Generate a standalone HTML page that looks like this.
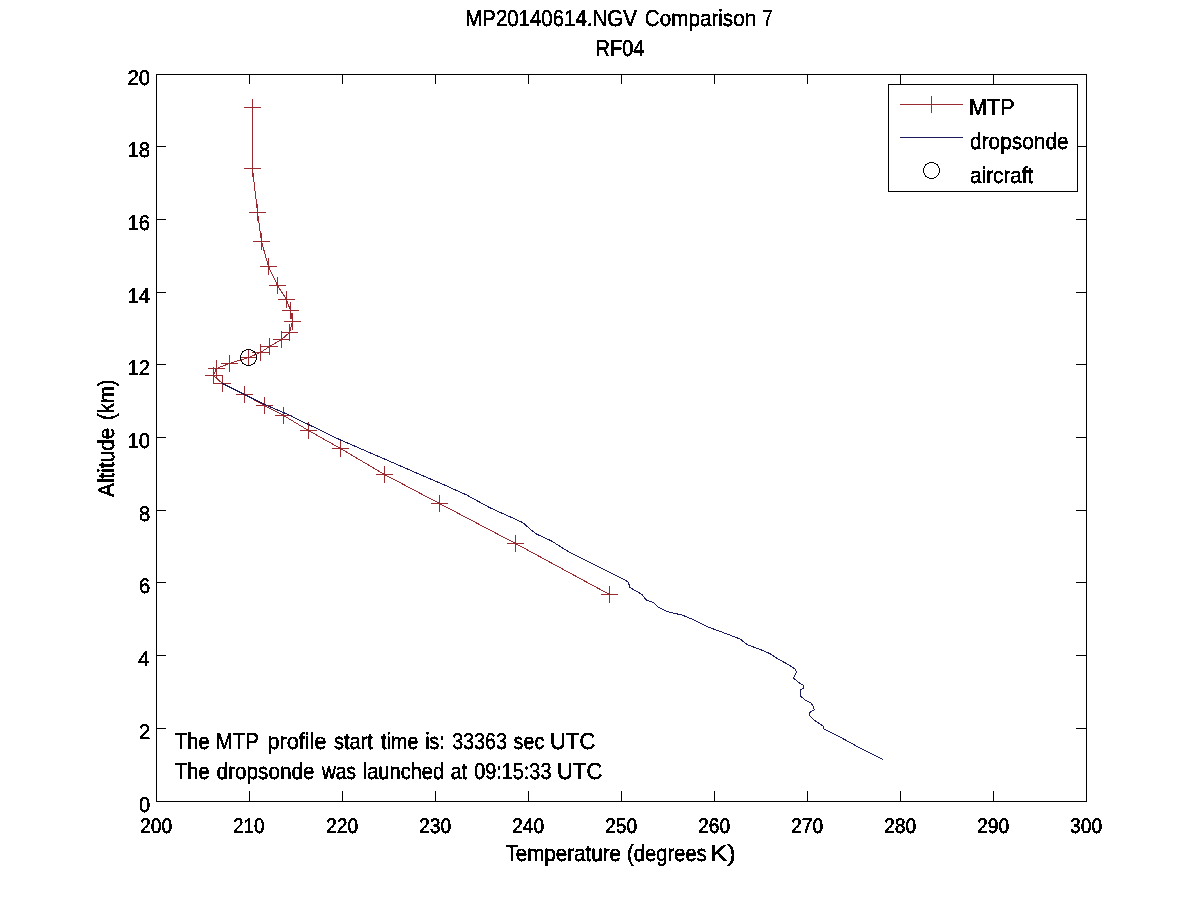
<!DOCTYPE html>
<html lang="en"><head><meta charset="utf-8"><title>MP20140614.NGV Comparison 7</title>
<style>html,body{margin:0;padding:0;background:#fff;width:1200px;height:900px;overflow:hidden}svg{display:block}text{font-family:"Liberation Sans",Arial,Helvetica,sans-serif;font-size:23.0px;fill:#000;stroke:#000;stroke-width:0.45px;white-space:pre;text-rendering:geometricPrecision}text.t{font-size:21.2px}</style></head><body>
<svg width="1200" height="900" viewBox="0 0 1200 900">
<rect x="0" y="0" width="1200" height="900" fill="#fff"/>
<defs><filter id="bw" x="0" y="0" width="1200" height="900" filterUnits="userSpaceOnUse" color-interpolation-filters="sRGB"><feComponentTransfer><feFuncA type="discrete" tableValues="0 1"/></feComponentTransfer></filter></defs>
<g stroke="#000" stroke-width="1" fill="none" shape-rendering="crispEdges">
<rect x="156.5" y="74.5" width="930.0" height="727.0"/>
<line x1="249.5" y1="802.0" x2="249.5" y2="791.0"/>
<line x1="249.5" y1="74.0" x2="249.5" y2="84.0"/>
<line x1="342.5" y1="802.0" x2="342.5" y2="791.0"/>
<line x1="342.5" y1="74.0" x2="342.5" y2="84.0"/>
<line x1="435.5" y1="802.0" x2="435.5" y2="791.0"/>
<line x1="435.5" y1="74.0" x2="435.5" y2="84.0"/>
<line x1="528.5" y1="802.0" x2="528.5" y2="791.0"/>
<line x1="528.5" y1="74.0" x2="528.5" y2="84.0"/>
<line x1="621.5" y1="802.0" x2="621.5" y2="791.0"/>
<line x1="621.5" y1="74.0" x2="621.5" y2="84.0"/>
<line x1="714.5" y1="802.0" x2="714.5" y2="791.0"/>
<line x1="714.5" y1="74.0" x2="714.5" y2="84.0"/>
<line x1="807.5" y1="802.0" x2="807.5" y2="791.0"/>
<line x1="807.5" y1="74.0" x2="807.5" y2="84.0"/>
<line x1="900.5" y1="802.0" x2="900.5" y2="791.0"/>
<line x1="900.5" y1="74.0" x2="900.5" y2="84.0"/>
<line x1="993.5" y1="802.0" x2="993.5" y2="791.0"/>
<line x1="993.5" y1="74.0" x2="993.5" y2="84.0"/>
<line x1="156.0" y1="728.5" x2="166.0" y2="728.5"/>
<line x1="1087.0" y1="728.5" x2="1076.0" y2="728.5"/>
<line x1="156.0" y1="655.5" x2="166.0" y2="655.5"/>
<line x1="1087.0" y1="655.5" x2="1076.0" y2="655.5"/>
<line x1="156.0" y1="582.5" x2="166.0" y2="582.5"/>
<line x1="1087.0" y1="582.5" x2="1076.0" y2="582.5"/>
<line x1="156.0" y1="510.5" x2="166.0" y2="510.5"/>
<line x1="1087.0" y1="510.5" x2="1076.0" y2="510.5"/>
<line x1="156.0" y1="437.5" x2="166.0" y2="437.5"/>
<line x1="1087.0" y1="437.5" x2="1076.0" y2="437.5"/>
<line x1="156.0" y1="364.5" x2="166.0" y2="364.5"/>
<line x1="1087.0" y1="364.5" x2="1076.0" y2="364.5"/>
<line x1="156.0" y1="292.5" x2="166.0" y2="292.5"/>
<line x1="1087.0" y1="292.5" x2="1076.0" y2="292.5"/>
<line x1="156.0" y1="219.5" x2="166.0" y2="219.5"/>
<line x1="1087.0" y1="219.5" x2="1076.0" y2="219.5"/>
<line x1="156.0" y1="146.5" x2="166.0" y2="146.5"/>
<line x1="1087.0" y1="146.5" x2="1076.0" y2="146.5"/>
</g>
<g fill="none" stroke-width="1" shape-rendering="crispEdges">
<polyline stroke="#9a2a30" points="252.5,107.5 252.5,168.5 257.5,212.5 261.5,241.5 268.5,266.5 277.5,285.5 286.5,299.5 290.5,310.5 292.5,321.5 289.5,332.5 281.5,339.5 269.5,346.5 260.5,352.5 248.5,357.5 229.5,363.5 216.5,368.5 213.5,375.5 222.5,383.5 244.5,394.5 264.5,405.5 283.5,415.5 308.5,430.5 340.5,448.5 384.5,474.5 439.5,503.5 515.5,543.5 609.5,594.5"/>
<path stroke="#9a2a30" d="M244.0 107.5h17M252.5 99.0v17M244.0 168.5h17M252.5 160.0v17M249.0 212.5h17M257.5 204.0v17M253.0 241.5h17M261.5 233.0v17M260.0 266.5h17M268.5 258.0v17M269.0 285.5h17M277.5 277.0v17M278.0 299.5h17M286.5 291.0v17M282.0 310.5h17M290.5 302.0v17M284.0 321.5h17M292.5 313.0v17M281.0 332.5h17M289.5 324.0v17M273.0 339.5h17M281.5 331.0v17M261.0 346.5h17M269.5 338.0v17M252.0 352.5h17M260.5 344.0v17M240.0 357.5h17M248.5 349.0v17M221.0 363.5h17M229.5 355.0v17M208.0 368.5h17M216.5 360.0v17M205.0 375.5h17M213.5 367.0v17M214.0 383.5h17M222.5 375.0v17M236.0 394.5h17M244.5 386.0v17M256.0 405.5h17M264.5 397.0v17M275.0 415.5h17M283.5 407.0v17M300.0 430.5h17M308.5 422.0v17M332.0 448.5h17M340.5 440.0v17M376.0 474.5h17M384.5 466.0v17M431.0 503.5h17M439.5 495.0v17M507.0 543.5h17M515.5 535.0v17M601.0 594.5h17M609.5 586.0v17"/>
<polyline stroke="#1a1a5e" points="222.5,383.5 244.5,394.5 264.5,404.5 283.5,412.5 308.5,424.5 340.5,440 384.5,459 420,474.5 443.3,484.5 466.7,495 490,507.8 522.7,522.5 529.7,528.8 536.7,534.2 550.7,540.5 569.3,552.2 597.3,566.2 625.3,580.2 628.8,582.5 629.3,587.2 641.7,594.2 646.3,600 653.3,602.3 658,607 667.3,611.7 682,615 694,620 708,627 726,633.6 740,639 748,645 760,649.4 770,653.6 778,659 788,664.4 795,669 796.6,672 793.6,678 798,682 803.6,685.6 804,688 800.6,690 800.6,696 805,700 811,703 813,706 814.4,709.6 809,713 809,715 814,720 823,726 824,729 840,737 860,748 872,754 883,759.5"/>
</g>
<circle cx="248.5" cy="357.5" r="8" fill="none" stroke="#000" stroke-width="1" shape-rendering="crispEdges"/>
<rect x="888.5" y="84.5" width="189" height="107" fill="#fff" stroke="#000" stroke-width="1" shape-rendering="crispEdges"/>
<g fill="none" stroke-width="1" shape-rendering="crispEdges">
<path stroke="#9a2a30" d="M900 104.5H963M931.5 96V113"/>
<path stroke="#1a1a5e" d="M900 137.5H963"/>
</g>
<circle cx="931.5" cy="170.5" r="8" fill="none" stroke="#000" stroke-width="1" shape-rendering="crispEdges"/>
<g filter="url(#bw)">
<text class="t" y="833"><tspan x="140.09" textLength="32.24" lengthAdjust="spacingAndGlyphs">200</tspan></text>
<text class="t" y="833"><tspan x="233.11" textLength="31.41" lengthAdjust="spacingAndGlyphs">210</tspan></text>
<text class="t" y="833"><tspan x="326.09" textLength="32.24" lengthAdjust="spacingAndGlyphs">220</tspan></text>
<text class="t" y="833"><tspan x="419.09" textLength="32.24" lengthAdjust="spacingAndGlyphs">230</tspan></text>
<text class="t" y="833"><tspan x="512.09" textLength="32.24" lengthAdjust="spacingAndGlyphs">240</tspan></text>
<text class="t" y="833"><tspan x="605.09" textLength="32.24" lengthAdjust="spacingAndGlyphs">250</tspan></text>
<text class="t" y="833"><tspan x="698.09" textLength="32.24" lengthAdjust="spacingAndGlyphs">260</tspan></text>
<text class="t" y="833"><tspan x="791.09" textLength="32.24" lengthAdjust="spacingAndGlyphs">270</tspan></text>
<text class="t" y="833"><tspan x="884.09" textLength="32.24" lengthAdjust="spacingAndGlyphs">280</tspan></text>
<text class="t" y="833"><tspan x="977.09" textLength="32.24" lengthAdjust="spacingAndGlyphs">290</tspan></text>
<text class="t" y="833"><tspan x="1070.09" textLength="32.24" lengthAdjust="spacingAndGlyphs">300</tspan></text>
<text class="t" y="812.0"><tspan x="138.90" textLength="11.26" lengthAdjust="spacingAndGlyphs">0</tspan></text>
<text class="t" y="739.0"><tspan x="138.90" textLength="11.26" lengthAdjust="spacingAndGlyphs">2</tspan></text>
<text class="t" y="666.0"><tspan x="137.95" textLength="11.26" lengthAdjust="spacingAndGlyphs">4</tspan></text>
<text class="t" y="593.0"><tspan x="138.90" textLength="11.26" lengthAdjust="spacingAndGlyphs">6</tspan></text>
<text class="t" y="521.0"><tspan x="138.90" textLength="11.26" lengthAdjust="spacingAndGlyphs">8</tspan></text>
<text class="t" y="448.0"><tspan x="127.45" textLength="22.51" lengthAdjust="spacingAndGlyphs">10</tspan></text>
<text class="t" y="375.0"><tspan x="127.45" textLength="22.51" lengthAdjust="spacingAndGlyphs">12</tspan></text>
<text class="t" y="303.0"><tspan x="127.45" textLength="22.51" lengthAdjust="spacingAndGlyphs">14</tspan></text>
<text class="t" y="230.0"><tspan x="127.45" textLength="22.51" lengthAdjust="spacingAndGlyphs">16</tspan></text>
<text class="t" y="157.0"><tspan x="127.45" textLength="22.51" lengthAdjust="spacingAndGlyphs">18</tspan></text>
<text class="t" y="85.0"><tspan x="127.45" textLength="22.51" lengthAdjust="spacingAndGlyphs">20</tspan></text>
<text y="26" style="font-size:23.0px"><tspan x="465.22" textLength="171.60" lengthAdjust="spacingAndGlyphs">MP20140614.NGV</tspan> <tspan x="644.85" textLength="111.30" lengthAdjust="spacingAndGlyphs">Comparison</tspan> <tspan x="762.75" textLength="9.60" lengthAdjust="spacingAndGlyphs">7</tspan></text>
<text y="56" style="font-size:23.0px"><tspan x="595.46" textLength="49.01" lengthAdjust="spacingAndGlyphs">RF04</tspan></text>
<text y="861" style="font-size:23.0px"><tspan x="505.40" textLength="115.61" lengthAdjust="spacingAndGlyphs">Temperature</tspan> <tspan x="627.12" textLength="79.56" lengthAdjust="spacingAndGlyphs">(degrees</tspan> <tspan x="710.18" textLength="25.53" lengthAdjust="spacingAndGlyphs">K)</tspan></text>
<g transform="translate(114,0) rotate(-90)"><text y="0" style="font-size:23.0px"><tspan x="-497.00" textLength="69.45" lengthAdjust="spacingAndGlyphs">Altitude</tspan> <tspan x="-419.88" textLength="40.24" lengthAdjust="spacingAndGlyphs">(km)</tspan></text></g>
<text y="749" style="font-size:23.0px"><tspan x="175.00" textLength="34.56" lengthAdjust="spacingAndGlyphs">The</tspan> <tspan x="215.63" textLength="42.86" lengthAdjust="spacingAndGlyphs">MTP</tspan> <tspan x="267.46" textLength="59.16" lengthAdjust="spacingAndGlyphs">profile</tspan> <tspan x="334.00" textLength="38.77" lengthAdjust="spacingAndGlyphs">start</tspan> <tspan x="381.00" textLength="37.39" lengthAdjust="spacingAndGlyphs">time</tspan> <tspan x="425.15" textLength="19.55" lengthAdjust="spacingAndGlyphs">is:</tspan> <tspan x="452.15" textLength="54.68" lengthAdjust="spacingAndGlyphs">33363</tspan> <tspan x="513.60" textLength="30.68" lengthAdjust="spacingAndGlyphs">sec</tspan> <tspan x="550.09" textLength="45.18" lengthAdjust="spacingAndGlyphs">UTC</tspan></text>
<text y="779" style="font-size:23.0px"><tspan x="175.00" textLength="34.56" lengthAdjust="spacingAndGlyphs">The</tspan> <tspan x="216.50" textLength="98.14" lengthAdjust="spacingAndGlyphs">dropsonde</tspan> <tspan x="322.00" textLength="33.92" lengthAdjust="spacingAndGlyphs">was</tspan> <tspan x="362.73" textLength="81.46" lengthAdjust="spacingAndGlyphs">launched</tspan> <tspan x="450.74" textLength="16.42" lengthAdjust="spacingAndGlyphs">at</tspan> <tspan x="474.14" textLength="77.32" lengthAdjust="spacingAndGlyphs">09:15:33</tspan> <tspan x="557.09" textLength="45.18" lengthAdjust="spacingAndGlyphs">UTC</tspan></text>
<text y="115" style="font-size:23.0px"><tspan x="969.12" textLength="45.66" lengthAdjust="spacingAndGlyphs">MTP</tspan></text>
<text y="148.5" style="font-size:23.0px"><tspan x="970.09" textLength="98.54" lengthAdjust="spacingAndGlyphs">dropsonde</tspan></text>
<text y="182.8" style="font-size:23.0px"><tspan x="970.10" textLength="63.27" lengthAdjust="spacingAndGlyphs">aircraft</tspan></text>
</g>
</svg></body></html>
